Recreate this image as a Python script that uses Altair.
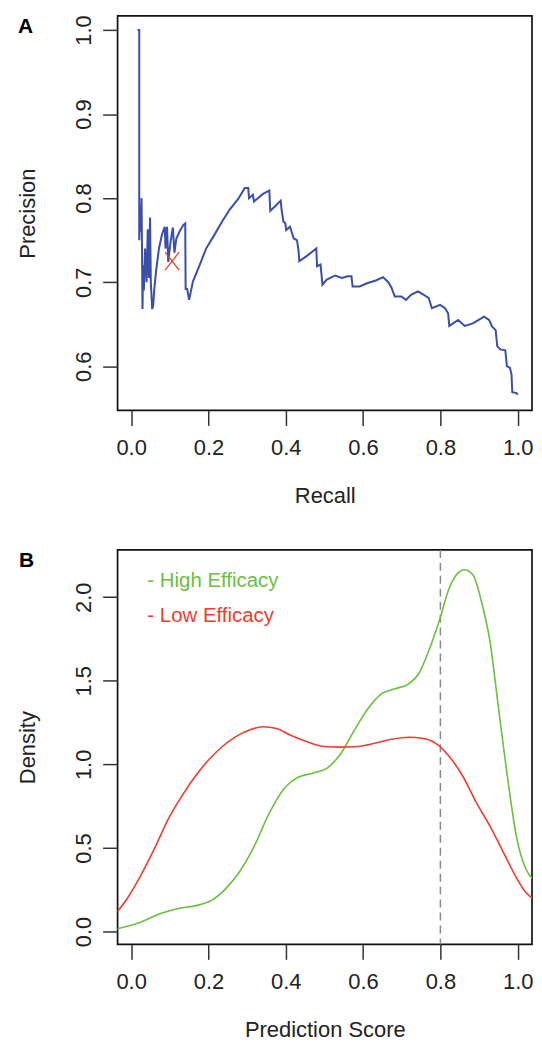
import altair as alt
import pandas as pd

# ---------------- data ----------------
recall = [0.0166, 0.0210, 0.0210, 0.0230, 0.0250, 0.0270, 0.0295, 0.0310, 0.0330, 0.0360,
          0.0400, 0.0430, 0.0460, 0.0490, 0.0510, 0.0545, 0.0570, 0.0600, 0.0650, 0.0720,
          0.0800, 0.0870, 0.0890, 0.0930, 0.0960, 0.1020, 0.1080, 0.1120, 0.1170, 0.1250,
          0.1350, 0.1400, 0.1410, 0.1450, 0.1500, 0.1600, 0.1770, 0.1940, 0.2150, 0.2350,
          0.2560, 0.2770, 0.2940, 0.3030, 0.3050, 0.3150, 0.3180, 0.3410, 0.3575, 0.3600,
          0.3740, 0.3870, 0.3890, 0.3940, 0.3990, 0.4010, 0.4110, 0.4206, 0.4290, 0.4330,
          0.4350, 0.4540, 0.4790, 0.4810, 0.4900, 0.4950, 0.5060, 0.5280, 0.5450, 0.5600,
          0.5700, 0.5730, 0.5910, 0.6120, 0.6330, 0.6520, 0.6650, 0.6730, 0.6820,
          0.6990, 0.7110, 0.7240, 0.7420, 0.7570, 0.7700, 0.7780, 0.7990, 0.8120, 0.8200,
          0.8230, 0.8460, 0.8630, 0.8840, 0.9130, 0.9260, 0.9340, 0.9430, 0.9470, 0.9550,
          0.9680, 0.9720, 0.9800, 0.9840, 0.9860, 0.9970, 1.0000]
precision = [1.000, 1.000, 0.750, 0.790, 0.760, 0.800, 0.668, 0.720, 0.690, 0.740,
             0.700, 0.763, 0.705, 0.777, 0.700, 0.668, 0.672, 0.692, 0.715, 0.740,
             0.757, 0.766, 0.740, 0.766, 0.724, 0.748, 0.765, 0.735, 0.752, 0.760,
             0.768, 0.770, 0.692, 0.692, 0.679, 0.701, 0.720, 0.740, 0.756, 0.772,
             0.787, 0.799, 0.812, 0.812, 0.800, 0.804, 0.796, 0.805, 0.809, 0.785,
             0.791, 0.797, 0.787, 0.772, 0.770, 0.762, 0.766, 0.752, 0.750, 0.738,
             0.725, 0.731, 0.740, 0.719, 0.721, 0.697, 0.703, 0.708, 0.705, 0.707,
             0.707, 0.695, 0.695, 0.699, 0.702, 0.706, 0.700, 0.694, 0.683,
             0.683, 0.679, 0.685, 0.689, 0.685, 0.681, 0.669, 0.673, 0.669, 0.663,
             0.648, 0.655, 0.648, 0.651, 0.659, 0.655, 0.647, 0.643, 0.624, 0.620,
             0.619, 0.600, 0.598, 0.590, 0.569, 0.568, 0.566]
best_recall = [0.106]
best_precision = [0.725]

score_high = [-0.045, 0.017, 0.078, 0.122, 0.174, 0.209, 0.245, 0.280, 0.315, 0.358,
              0.394, 0.429, 0.472, 0.507, 0.543, 0.578, 0.613, 0.648, 0.683, 0.718,
              0.744, 0.770, 0.797, 0.823, 0.845, 0.862, 0.884, 0.906, 0.928, 0.950,
              0.972, 0.998, 1.020, 1.045]
density_high = [0.012, 0.049, 0.109, 0.138, 0.158, 0.188, 0.257, 0.356, 0.494, 0.711,
                0.850, 0.919, 0.949, 0.978, 1.067, 1.206, 1.334, 1.423, 1.453, 1.482,
                1.542, 1.680, 1.858, 2.055, 2.144, 2.164, 2.134, 1.976, 1.739, 1.344,
                0.949, 0.553, 0.380, 0.300]

score_low = [-0.045, -0.010, 0.025, 0.060, 0.096, 0.131, 0.166, 0.201, 0.236, 0.271,
             0.306, 0.341, 0.376, 0.411, 0.455, 0.499, 0.543, 0.586, 0.630, 0.674,
             0.718, 0.753, 0.788, 0.823, 0.858, 0.893, 0.928, 0.963, 0.998, 1.020, 1.045]
density_low = [0.095, 0.198, 0.336, 0.494, 0.672, 0.810, 0.929, 1.028, 1.107, 1.166,
               1.206, 1.225, 1.215, 1.176, 1.136, 1.107, 1.103, 1.107, 1.126, 1.150,
               1.162, 1.156, 1.126, 1.047, 0.929, 0.771, 0.632, 0.474, 0.316, 0.237, 0.190]

threshold = [0.8]
legend_labels = ["- High Efficacy", "- Low Efficacy"]
legend_groups = ["High Efficacy", "Low Efficacy"]
legend_x = [0.042, 0.042]
legend_y = [2.062, 1.849]

x_ticks = [0.0, 0.2, 0.4, 0.6, 0.8, 1.0]
yA_ticks = [0.6, 0.7, 0.8, 0.9, 1.0]
yB_ticks = [0.0, 0.5, 1.0, 1.5, 2.0]

BLUE = "#3b4ea8"
GREEN = "#6cbf3f"
RED = "#f03c30"

# ---------------- styling helpers ----------------
FONT = "Liberation Sans"
W = 416
HA = 396
HB = 396
TXT = "#222222"


def x_axis(title):
    return alt.Axis(title=title, values=x_ticks, format=".1f", domain=False, grid=False,
                    tickSize=15, tickWidth=1.5, tickColor="#333333",
                    labelFont=FONT, labelFontSize=22, labelColor=TXT, labelPadding=12,
                    labelBaseline="top", labelFlush=False, labelOverlap=False,
                    titleFont=FONT, titleFontSize=22, titleFontWeight="normal", titleColor=TXT,
                    titleBaseline="alphabetic", titleAlign="center", titleX=W / 2, titleY=92)


def y_axis(title, ticks, h):
    return alt.Axis(title=title, values=ticks, format=".1f", domain=False, grid=False,
                    tickSize=15, tickWidth=1.5, tickColor="#333333",
                    labelFont=FONT, labelFontSize=22, labelColor=TXT, labelPadding=12,
                    labelAngle=270, labelAlign="center", labelBaseline="alphabetic",
                    labelFlush=False, labelOverlap=False,
                    titleFont=FONT, titleFontSize=22, titleFontWeight="normal", titleColor=TXT,
                    titleAngle=270, titleBaseline="alphabetic", titleAlign="center",
                    titleX=-83.5, titleY=h / 2)


x_scale = alt.Scale(domain=[-0.035, 1.037], nice=False, zero=False)
yA_scale = alt.Scale(domain=[0.5474, 1.0168], nice=False, zero=False)
yB_scale = alt.Scale(domain=[-0.077, 2.283], nice=False, zero=False)

# ---------------- panel A ----------------
pr = pd.DataFrame({"recall": recall, "precision": precision, "i": list(range(len(recall)))})
best = pd.DataFrame({"recall": best_recall, "precision": best_precision})

pr_line = alt.Chart(pr).mark_line(color=BLUE, strokeWidth=2, clip=True).encode(
    x=alt.X("recall:Q", scale=x_scale, axis=x_axis("Recall")),
    y=alt.Y("precision:Q", scale=yA_scale, axis=y_axis("Precision", yA_ticks, HA)),
    order="i:Q",
)
best_mark = alt.Chart(best).mark_point(
    shape="M-0.78,-1L0.78,1M0.78,-1L-0.78,1", size=324, filled=False,
    color=RED, strokeWidth=1.3, opacity=1,
).encode(x=alt.X("recall:Q", scale=x_scale), y=alt.Y("precision:Q", scale=yA_scale))

letter_a = alt.Chart(pd.DataFrame({"t": ["A"]})).mark_text(
    align="left", baseline="alphabetic", font=FONT, fontSize=21, fontWeight="bold", color="#000000"
).encode(text="t:N", x=alt.value(-100), y=alt.value(17))

panel_a = alt.layer(pr_line, best_mark, letter_a).properties(width=W, height=HA)

# ---------------- panel B ----------------
dens = pd.concat([
    pd.DataFrame({"score": score_high, "density": density_high, "group": "High Efficacy",
                  "i": list(range(len(score_high)))}),
    pd.DataFrame({"score": score_low, "density": density_low, "group": "Low Efficacy",
                  "i": list(range(len(score_low)))}),
], ignore_index=True)

color_scale = alt.Scale(domain=legend_groups, range=[GREEN, RED])

dens_lines = alt.Chart(dens).mark_line(strokeWidth=1.6, clip=True, interpolate="monotone").encode(
    x=alt.X("score:Q", scale=x_scale, axis=x_axis("Prediction Score")),
    y=alt.Y("density:Q", scale=yB_scale, axis=y_axis("Density", yB_ticks, HB)),
    color=alt.Color("group:N", scale=color_scale, legend=None),
    detail="group:N",
    order="i:Q",
)

thr = alt.Chart(pd.DataFrame({"t": threshold})).mark_rule(
    color="#8a8a8a", strokeWidth=1.5, strokeDash=[8, 5]
).encode(x=alt.X("t:Q", scale=x_scale))

legend = alt.Chart(pd.DataFrame({"label": legend_labels, "lx": legend_x, "ly": legend_y,
                                 "group": legend_groups})).mark_text(
    align="left", baseline="alphabetic", font=FONT, fontSize=20.5
).encode(
    x=alt.X("lx:Q", scale=x_scale),
    y=alt.Y("ly:Q", scale=yB_scale),
    text="label:N",
    color=alt.Color("group:N", scale=color_scale, legend=None),
)

letter_b = alt.Chart(pd.DataFrame({"t": ["B"]})).mark_text(
    align="left", baseline="alphabetic", font=FONT, fontSize=21, fontWeight="bold", color="#000000"
).encode(text="t:N", x=alt.value(-99), y=alt.value(17))

panel_b = alt.layer(thr, dens_lines, legend, letter_b).properties(width=W, height=HB)

chart = alt.vconcat(panel_a, panel_b, spacing=41).properties(
    padding={"left": 7, "top": 4, "right": 0, "bottom": 0}
).configure_view(stroke="#111111", strokeWidth=1.7)

chart.save("out.html", embed_options={"renderer": "svg", "actions": False})
